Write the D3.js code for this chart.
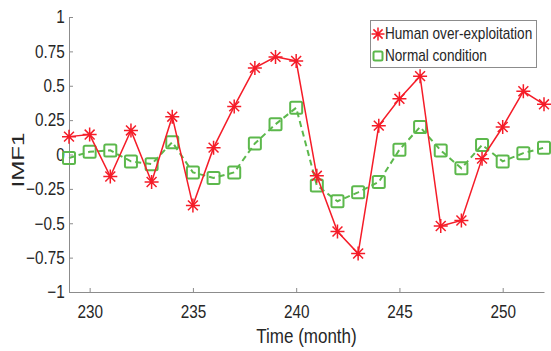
<!DOCTYPE html>
<html>
<head>
<meta charset="utf-8">
<script src="https://cdn.jsdelivr.net/npm/d3@7/dist/d3.min.js"></script>
<style>
  body { margin: 0; background: #fff; }
  text { font-family: "Liberation Sans", Arial, sans-serif; fill: #262626; }
</style>
</head>
<body>
<div id="chart"></div>
<script>
const months = d3.range(229, 253);
const humanOverExploitation = [0.13, 0.145, -0.16, 0.175, -0.2, 0.275, -0.37, 0.05, 0.35, 0.63, 0.71, 0.68,
    -0.155, -0.56, -0.72, 0.21, 0.405, 0.57, -0.52, -0.48, -0.03, 0.2, 0.46, 0.365];
const normalCondition = [-0.025, 0.02, 0.03, -0.05, -0.07, 0.09, -0.13, -0.17, -0.13, 0.08, 0.22, 0.34,
    -0.225, -0.34, -0.275, -0.2, 0.035, 0.2, 0.03, -0.1, 0.07, -0.05, 0.01, 0.05];
const xTicks = [230, 235, 240, 245, 250];
const yTicks = [-1, -0.75, -0.5, -0.25, 0, 0.25, 0.5, 0.75, 1];
const seriesNames = ["Human over-exploitation", "Normal condition"];

const red = "#f51c28";
const green = "#5cb84c";

const width = 551, height = 351;
const margin = { top: 17, right: 7, bottom: 59, left: 69 };

const svg = d3.select("#chart").append("svg")
    .attr("width", width)
    .attr("height", height);

const x = d3.scaleLinear()
    .domain([229, 252])
    .range([margin.left, width - margin.right]);

const y = d3.scaleLinear()
    .domain([-1, 1])
    .range([height - margin.bottom, margin.top]);

// axes, matlab style: ticks inside
const xAxis = svg.append("g")
    .attr("transform", `translate(0,${height - margin.bottom})`)
    .call(d3.axisBottom(x).tickValues(xTicks).tickSizeInner(-4).tickSizeOuter(0).tickPadding(13));

const yAxis = svg.append("g")
    .attr("transform", `translate(${margin.left},0)`)
    .call(d3.axisLeft(y).tickValues(yTicks).tickSizeInner(-4).tickSizeOuter(0).tickPadding(5)
        .tickFormat(d => d3.format("")(d)));

[xAxis, yAxis].forEach(ax => {
    ax.select(".domain").attr("stroke", "#8c8c8c");
    ax.selectAll(".tick line").attr("stroke", "#8c8c8c");
    ax.selectAll(".tick text")
        .style("font-size", "18px")
        .attr("fill", "#262626")
        .attr("transform", "scale(0.85,1)");
});

svg.append("text")
    .attr("x", (margin.left + width - margin.right) / 2)
    .attr("y", 343)
    .attr("text-anchor", "middle")
    .attr("transform", `translate(${(margin.left + width - margin.right) / 2 * 0.15},0) scale(0.85,1)`)
    .style("font-size", "20px")
    .text("Time (month)");

svg.append("text")
    .attr("transform", `translate(24,160) rotate(-90)`)
    .attr("text-anchor", "middle")
    .attr("textLength", 55)
    .attr("lengthAdjust", "spacingAndGlyphs")
    .style("font-size", "17px")
    .text("IMF1");

// markers
const asterisk = (g, cx, cy, r) => {
    const d = [];
    for (let k = 0; k < 4; k++) {
        const a = k * Math.PI / 4;
        d.push(`M${cx - r * Math.cos(a)},${cy - r * Math.sin(a)}L${cx + r * Math.cos(a)},${cy + r * Math.sin(a)}`);
    }
    g.append("path").attr("d", d.join("")).attr("stroke", red).attr("stroke-width", 1.5).attr("fill", "none");
};
const square = (g, cx, cy, s) => {
    g.append("rect")
        .attr("x", cx - s / 2).attr("y", cy - s / 2)
        .attr("width", s).attr("height", s)
        .attr("rx", 1.5)
        .attr("fill", "none").attr("stroke", green).attr("stroke-width", 2);
};

const line = d3.line().x((d, i) => x(months[i])).y(d => y(d));

svg.append("path")
    .datum(normalCondition)
    .attr("d", line)
    .attr("fill", "none")
    .attr("stroke", green)
    .attr("stroke-width", 2)
    .attr("stroke-dasharray", "6,4");

const greenMarks = svg.append("g");
normalCondition.forEach((v, i) => square(greenMarks, x(months[i]), y(v), 12));

svg.append("path")
    .datum(humanOverExploitation)
    .attr("d", line)
    .attr("fill", "none")
    .attr("stroke", red)
    .attr("stroke-width", 1.5);

const redMarks = svg.append("g");
humanOverExploitation.forEach((v, i) => asterisk(redMarks, x(months[i]), y(v), 7));

// legend
const legend = svg.append("g");
legend.append("rect")
    .attr("x", 370.5).attr("y", 20.5)
    .attr("width", 166).attr("height", 47)
    .attr("fill", "#fff")
    .attr("stroke", "#8c8c8c");

asterisk(legend, 378, 34, 6.5);
square(legend, 378, 56, 9);

seriesNames.forEach((name, i) => {
    legend.append("text")
        .attr("x", 385 / 0.85)
        .attr("y", 39.5 + i * 22)
        .attr("transform", "scale(0.85,1)")
        .style("font-size", "16px")
        .text(name);
});
</script>
</body>
</html>
